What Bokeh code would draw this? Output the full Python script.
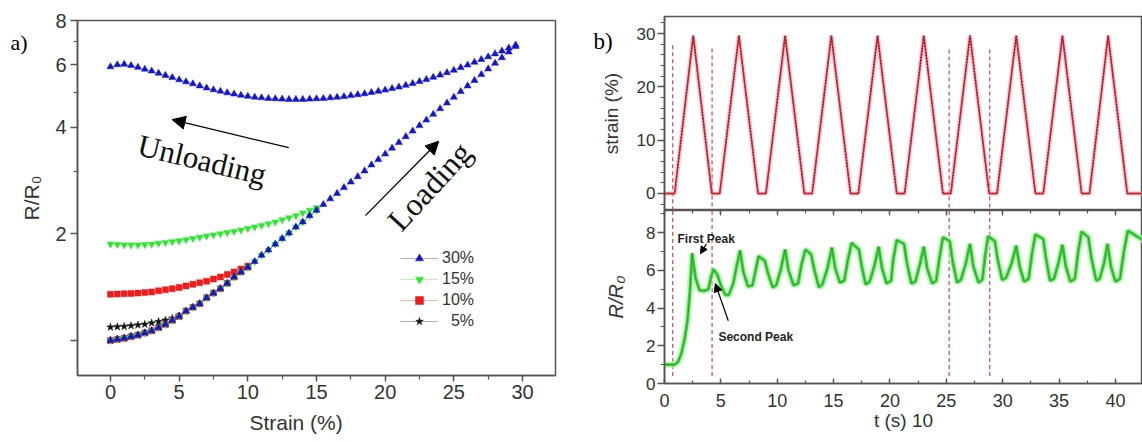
import numpy as np
from bokeh.plotting import figure
from bokeh.layouts import row, column
from bokeh.models import (Range1d, FixedTicker, SingleIntervalTicker, LinearAxis, Label,
                          Arrow, NormalHead, Legend, LegendItem, PrintfTickFormatter,
                          CustomJSTickFormatter, Title)
from bokeh.embed import file_html
from bokeh.resources import INLINE

SANS = "Liberation Sans"
SERIF = "Liberation Serif"
AX = "#555555"
TXT = "#333333"

# ---------------- panel a) data : R/R0 vs strain ----------------
strain_step = 0.5
load_30 = [1.00, 1.007, 1.014, 1.025, 1.035, 1.05, 1.065, 1.087, 1.11, 1.14, 1.17, 1.21, 1.24, 1.27,
           1.32, 1.36, 1.40, 1.45, 1.51, 1.56, 1.61, 1.67, 1.74, 1.80, 1.87, 1.94, 2.01, 2.09, 2.16,
           2.25, 2.33, 2.42, 2.51, 2.60, 2.70, 2.80, 2.90, 3.01, 3.13, 3.24, 3.36, 3.49, 3.62, 3.76,
           3.90, 4.04, 4.19, 4.35, 4.51, 4.68, 4.86, 5.04, 5.23, 5.42, 5.63, 5.84, 6.06, 6.28, 6.52, 6.76]
unload_30 = [5.92, 6.00, 6.02, 5.97, 5.90, 5.83, 5.76, 5.68, 5.60, 5.52, 5.44, 5.37, 5.30, 5.23,
             5.16, 5.10, 5.05, 5.00, 4.96, 4.92, 4.89, 4.86, 4.84, 4.82, 4.81, 4.80, 4.79, 4.79,
             4.79, 4.80, 4.81, 4.82, 4.84, 4.86, 4.88, 4.91, 4.94, 4.97, 5.01, 5.05, 5.09, 5.14,
             5.19, 5.25, 5.31, 5.38, 5.45, 5.53, 5.61, 5.70, 5.79, 5.89, 5.99, 6.10, 6.21, 6.32,
             6.44, 6.56, 6.69, 6.82]
unload_15 = [1.87, 1.865, 1.86, 1.86, 1.86, 1.865, 1.87, 1.88, 1.89, 1.90, 1.91, 1.925, 1.94, 1.955,
             1.97, 1.985, 2.00, 2.015, 2.03, 2.05, 2.07, 2.09, 2.11, 2.135, 2.16, 2.19, 2.22, 2.25,
             2.29, 2.33, 2.37]
unload_10 = [1.35, 1.352, 1.355, 1.357, 1.36, 1.365, 1.37, 1.38, 1.39, 1.40, 1.41, 1.425, 1.44,
             1.455, 1.47, 1.49, 1.51, 1.535, 1.56, 1.59, 1.62]
unload_5 = [1.09, 1.092, 1.095, 1.10, 1.105, 1.11, 1.12, 1.13, 1.14, 1.155, 1.17]
legend_labels = ["30%", "15%", "10%", "\u20075%"]

# ---------------- panel b) data : cyclic test ----------------
t_strain = [0, 0.9, 2.55, 4.2, 4.9, 6.6, 8.3, 9.0, 10.7, 12.4, 13.1, 14.8, 16.5, 17.2, 18.9,
            20.6, 21.3, 23.0, 24.7, 25.4, 27.1, 28.8, 29.5, 31.2, 32.9, 33.6, 35.3, 37.0, 37.7,
            39.35, 41.05, 42.6]
strain_pct = [0, 0, 29.6, 0, 0, 29.6, 0, 0, 29.6, 0, 0, 29.6, 0, 0, 29.6, 0, 0, 29.6, 0, 0,
              29.6, 0, 0, 29.6, 0, 0, 29.6, 0, 0, 29.6, 0, 0]
t_resp = [0, 0.9, 1.2, 1.5, 1.8, 2.05, 2.25, 2.45,
          2.75, 3.1, 3.5, 3.9, 4.15, 4.35, 4.7, 5.0, 5.4, 5.7, 6.1, 6.4, 6.7,
          7.0, 7.4, 7.8, 8.05, 8.35, 8.9, 9.2, 9.6, 9.9, 10.3, 10.7,
          11.0, 11.45, 11.85, 12.15, 12.5, 13.0, 13.3, 13.7, 14.0, 14.45, 14.85,
          15.15, 15.55, 15.95, 16.25, 16.6, 17.25, 17.5, 17.85, 18.2, 18.6, 19.0,
          19.3, 19.7, 20.1, 20.3, 20.6, 21.25, 21.5, 21.9, 22.25, 22.65, 23.0,
          23.3, 23.75, 24.1, 24.4, 24.7, 25.3, 25.55, 25.95, 26.3, 26.7, 27.1,
          27.4, 27.85, 28.2, 28.45, 28.7, 29.3, 29.55, 29.95, 30.3, 30.8, 31.2,
          31.5, 31.9, 32.3, 32.6, 32.9, 33.6, 33.85, 34.2, 34.55, 34.95, 35.3,
          35.6, 36.0, 36.4, 36.7, 37.0, 37.6, 37.85, 38.3, 38.6, 39.0, 39.3,
          39.6, 40.0, 40.4, 40.75, 41.1, 42.3, 42.6]
r_resp = [1.0, 1.0, 1.15, 1.6, 2.4, 3.4, 4.8, 6.9,
          5.6, 4.95, 4.9, 5.0, 5.7, 6.05, 5.75, 5.2, 4.7, 4.7, 5.3, 6.2, 7.05,
          5.9, 5.15, 5.2, 5.9, 6.75, 6.5, 5.8, 5.1, 5.2, 6.0, 7.1,
          6.0, 5.2, 5.3, 6.3, 7.1, 6.85, 6.0, 5.1, 5.25, 6.1, 7.2,
          6.1, 5.35, 5.45, 6.5, 7.45, 7.1, 6.2, 5.25, 5.4, 6.2, 7.25,
          6.1, 5.3, 5.45, 6.6, 7.6, 7.4, 6.4, 5.3, 5.4, 6.3, 7.25,
          6.1, 5.3, 5.45, 6.7, 7.75, 7.55, 6.5, 5.35, 5.5, 6.3, 7.4,
          6.2, 5.35, 5.5, 6.8, 7.8, 7.55, 6.6, 5.5, 5.6, 6.4, 7.3,
          6.2, 5.4, 5.55, 6.9, 7.9, 7.65, 6.6, 5.45, 5.55, 6.4, 7.35,
          6.2, 5.4, 5.55, 7.0, 8.05, 7.75, 6.7, 5.45, 5.55, 6.4, 7.4,
          6.2, 5.4, 5.55, 7.0, 8.1, 7.65, 7.6]
dash_t = [0.73, 4.22, 25.25, 28.85]
dash_top = [27.8, 27.2, 27.0, 27.0]


def style_axis(ax, size):
    ax.axis_line_color = AX
    ax.axis_line_width = 1.6
    ax.major_tick_line_color = AX
    ax.minor_tick_line_color = AX
    ax.major_tick_line_width = 1.4
    ax.minor_tick_line_width = 1.2
    ax.major_label_text_font = SANS
    ax.major_label_text_font_size = size
    ax.major_label_text_color = TXT
    ax.axis_label_text_font = SANS
    ax.axis_label_text_font_style = "normal"
    ax.axis_label_text_color = TXT


# =========================== panel a ===========================
p1 = figure(width=580, height=442, x_range=Range1d(-2.4, 32.4), y_range=Range1d(0.796, 8.0),
            y_axis_type="log", output_backend="svg", toolbar_location=None,
            min_border_left=77, min_border_right=25, min_border_top=20, min_border_bottom=67)
p1.xgrid.visible = False
p1.ygrid.visible = False
p1.outline_line_color = AX
p1.outline_line_width = 1.5
p1.background_fill_color = "white"
p1.border_fill_color = "white"
p1.add_layout(Title(text="a)", text_font=SERIF, text_font_size="22px", text_font_style="normal",
                    text_color="#000000", align="left", offset=-67, standoff=-69,
                    vertical_align="bottom"), "above")

xa = p1.xaxis[0]
style_axis(xa, "20px")
xa.ticker = SingleIntervalTicker(interval=5, num_minor_ticks=2)
xa.major_tick_out = 6
xa.major_tick_in = 0
xa.minor_tick_out = 4
xa.minor_tick_in = 0
xa.major_label_standoff = 3
xa.axis_label = "Strain (%)" + "\u00a0" * 7
xa.axis_label_text_font_size = "21px"
xa.axis_label_standoff = 9

ya = p1.yaxis[0]
style_axis(ya, "20px")
ya.ticker = FixedTicker(ticks=[1, 2, 4, 6, 8], minor_ticks=[3, 5, 7])
ya.formatter = PrintfTickFormatter(format="%d")
ya.major_label_overrides = {1: ""}
ya.major_tick_out = 7
ya.major_tick_in = 0
ya.minor_tick_out = 4
ya.minor_tick_in = 0
ya.major_label_standoff = 4
ya.axis_label = "R/R\u2080"
ya.axis_label_text_font_size = "21px"
ya.axis_label_standoff = 9

xs = np.arange(len(load_30)) * strain_step
series = [
    (legend_labels[3], unload_5, "star", "#111111", 8),
    (legend_labels[2], unload_10, "square", "#ee1c1c", 6),
    (legend_labels[1], unload_15, "inverted_triangle", "#2ee82e", 7),
    (legend_labels[0], unload_30, "triangle", "#1515c8", 7),
]
legend_refs = {}
for name, unl, mk, col, sz in series:
    n = len(unl)
    xx = xs[:n]
    ld = load_30[:n]
    p1.line(xx, ld, line_color=col, line_width=1, line_alpha=0.35)
    lr = p1.line(xx, unl, line_color=col, line_width=1, line_alpha=0.35)
    p1.scatter(xx, ld, marker=mk, size=sz, fill_color=col, line_color=col, line_width=0.5)
    sr = p1.scatter(xx, unl, marker=mk, size=sz, fill_color=col, line_color=col, line_width=0.5)
    legend_refs[name] = [lr, sr]

items = [LegendItem(label=name, renderers=legend_refs[name]) for name in legend_labels]
legend = Legend(items=items, location=(323, 44), border_line_color=None, background_fill_alpha=0,
                label_text_font=SANS, label_text_font_size="16px", label_text_color=TXT,
                glyph_width=38, glyph_height=20, label_height=20, label_standoff=4, spacing=1,
                padding=0, margin=0)
p1.add_layout(legend)

# annotations
p1.add_layout(Arrow(end=NormalHead(size=13, fill_color="black", line_color="black"),
                    x_start=12.98, y_start=3.50, x_end=4.49, y_end=4.20,
                    line_color="black", line_width=1.3))
p1.add_layout(Arrow(end=NormalHead(size=13, fill_color="black", line_color="black"),
                    x_start=18.56, y_start=2.25, x_end=23.9, y_end=3.65,
                    line_color="black", line_width=1.3))
p1.add_layout(Label(x=61, y=231, x_units="screen", y_units="screen", text="Unloading",
                    angle=-0.236, text_font=SERIF, text_font_size="31px", text_color="#111111",
                    text_baseline="alphabetic"))
p1.add_layout(Label(x=316, y=150, x_units="screen", y_units="screen", text="Loading",
                    angle=0.83, text_font=SERIF, text_font_size="32px", text_color="#111111",
                    text_baseline="alphabetic"))

# =========================== panel b (top) ===========================
shared_x = Range1d(0, 42.4)
p2 = figure(width=562, height=210, x_range=shared_x, y_range=Range1d(-3.19, 33.19),
            output_backend="svg", toolbar_location=None,
            min_border_left=84, min_border_right=0, min_border_top=16, min_border_bottom=0)
p2.xgrid.visible = False
p2.ygrid.visible = False
p2.xaxis.visible = False
p2.outline_line_color = AX
p2.outline_line_width = 1.5
p2.add_layout(Title(text="b)", text_font=SERIF, text_font_size="23px", text_font_style="normal",
                    text_color="#000000", align="left", offset=-71, standoff=-74,
                    vertical_align="bottom"), "above")
ya2 = p2.yaxis[0]
style_axis(ya2, "17px")
ya2.ticker = SingleIntervalTicker(interval=10, num_minor_ticks=5)
ya2.major_tick_out = 7
ya2.major_tick_in = 0
ya2.minor_tick_out = 4
ya2.minor_tick_in = 0
ya2.major_label_standoff = 2
ya2.axis_label = "strain (%)"
ya2.axis_label_text_font_size = "19px"
ya2.axis_label_standoff = 12

p2.segment(x0=dash_t, y0=dash_top, x1=dash_t, y1=[-3.3] * len(dash_t),
           line_color="#c04860", line_width=1.2, line_dash="4 3")
p2.line(t_strain, strain_pct, line_color="#f4a0a8", line_width=4.5, line_alpha=0.55)
p2.line(t_strain, strain_pct, line_color="#d63a4c", line_width=1.8)
p2.line(t_strain, strain_pct, line_color="#6a1020", line_width=1.2, line_dash="1 2")

# =========================== panel b (bottom) ===========================
p3 = figure(width=562, height=232, x_range=shared_x, y_range=Range1d(0, 9.17),
            output_backend="svg", toolbar_location=None,
            min_border_left=84, min_border_right=0, min_border_top=0, min_border_bottom=59)
p3.xgrid.visible = False
p3.ygrid.visible = False
p3.outline_line_color = AX
p3.outline_line_width = 1.5
xa3 = p3.xaxis[0]
style_axis(xa3, "18px")
xa3.ticker = SingleIntervalTicker(interval=5, num_minor_ticks=2)
xa3.major_tick_out = 0
xa3.major_tick_in = 5
xa3.minor_tick_out = 0
xa3.minor_tick_in = 3
xa3.major_label_standoff = 10
xa3.axis_label = "t (s) 10"
xa3.axis_label_text_font_size = "19px"
xa3.axis_label_standoff = 0
ya3 = p3.yaxis[0]
style_axis(ya3, "17px")
ya3.ticker = SingleIntervalTicker(interval=2, num_minor_ticks=2)
ya3.major_tick_out = 7
ya3.major_tick_in = 0
ya3.minor_tick_out = 4
ya3.minor_tick_in = 0
ya3.major_label_standoff = 2
ya3.axis_label = "R/R\u2080"
ya3.axis_label_text_font_size = "20px"
ya3.axis_label_text_font_style = "italic"
ya3.axis_label_standoff = 16

top_ax = LinearAxis(ticker=SingleIntervalTicker(interval=5, num_minor_ticks=2),
                    formatter=CustomJSTickFormatter(code="return ''"),
                    major_label_text_font_size="0px", major_label_standoff=0,
                    major_tick_in=5, major_tick_out=0, minor_tick_in=3, minor_tick_out=0,
                    axis_line_color=None, major_tick_line_color=AX, minor_tick_line_color=AX,
                    major_tick_line_width=1.4, minor_tick_line_width=1.2)
p3.add_layout(top_ax, "above")

p3.segment(x0=dash_t, y0=[0.4] * len(dash_t), x1=dash_t, y1=[9.3] * len(dash_t),
           line_color="#c04860", line_width=1.2, line_dash="4 3")
p3.line(t_resp, r_resp, line_color="#b4f4ac", line_width=7, line_alpha=0.7)
p3.line(t_resp, r_resp, line_color="#44d444", line_width=3.2)
p3.line(t_resp, r_resp, line_color="#2a8c2a", line_width=1.0, line_alpha=0.7)

p3.add_layout(Arrow(end=NormalHead(size=7, fill_color="black", line_color="black"),
                    x_start=3.72, y_start=7.4, x_end=3.19, y_end=6.88,
                    line_color="black", line_width=1.2))
p3.add_layout(Arrow(end=NormalHead(size=8, fill_color="black", line_color="black"),
                    x_start=5.66, y_start=3.33, x_end=4.51, y_end=5.29,
                    line_color="black", line_width=1.2))
p3.add_layout(Label(x=1.15, y=7.67, text="First Peak", text_font=SANS, text_font_size="12px",
                    text_font_style="bold", text_color="#222222", text_baseline="alphabetic"))
p3.add_layout(Label(x=4.78, y=2.49, text="Second Peak", text_font=SANS, text_font_size="12px",
                    text_font_style="bold", text_color="#222222", text_baseline="alphabetic"))

layout = row(p1, column(p2, p3))
open("out.html", "w").write(file_html(layout, INLINE))
